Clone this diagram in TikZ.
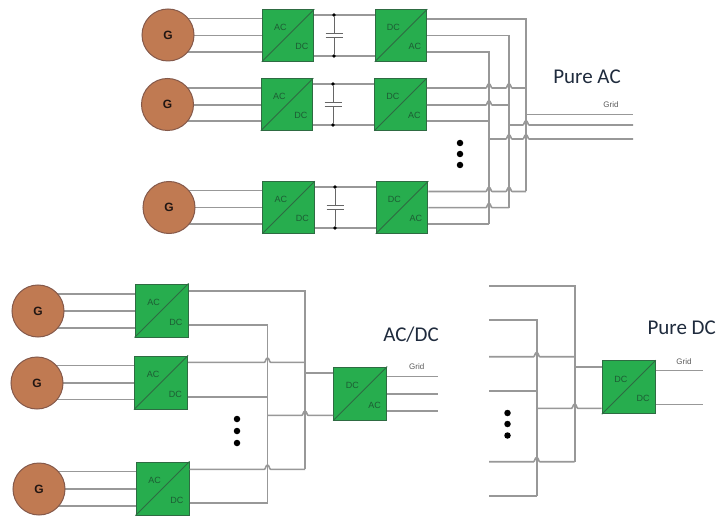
\documentclass[tikz,border=0pt]{standalone}
\usepackage{fontspec}
\setmainfont{Liberation Sans}
\newfontfamily\titlefont{Carlito}
\usetikzlibrary{backgrounds}
\definecolor{convgreen}{HTML}{27AD4E}
\definecolor{convedge}{HTML}{2E6B42}
\definecolor{genbrown}{HTML}{C07A52}
\definecolor{genedge}{HTML}{85594A}
\definecolor{wiregray}{HTML}{989898}
\definecolor{titleink}{HTML}{1F2B3D}
\definecolor{boxink}{HTML}{1D5C34}
\tikzset{
  wire/.style={draw=wiregray,line width=1.6bp},
  capwire/.style={draw=black!60,line width=1bp},
  gen/.style={circle,draw=genedge,fill=genbrown,line width=1bp,minimum size=52bp,inner sep=0pt,font=\fontsize{12bp}{13bp}\selectfont\bfseries,text=black!75!genedge},
  conv/.style={rectangle,draw=convedge,fill=convgreen,line width=1bp,minimum size=#1,inner sep=0pt},
  convtext/.style={font=\fontsize{9bp}{10bp}\selectfont,text=boxink,inner sep=0pt},
  diag/.style={draw=convedge,line width=0.9bp},
  ell/.style={circle,fill=black,minimum size=6.5bp,inner sep=0pt},
  joint/.style={circle,fill=black,minimum size=3.8bp,inner sep=0pt},
  heading/.style={font=\titlefont\fontsize{21bp}{22bp}\selectfont,text=titleink,inner sep=0pt},
  gridtext/.style={font=\fontsize{8bp}{9bp}\selectfont,text=black!65,inner sep=0pt}
}
% name, centre x, centre y, size, upper text, lower text
\newcommand{\convbox}[6]{%
  \node[conv=#4 bp] (#1) at (#2,#3) {};
  \draw[diag] (#1.south west) -- (#1.north east);
  \node[convtext] (#1t) at ([xshift=-0.15*#4 bp,yshift=0.15*#4 bp]#1.center) {#5};
  \node[convtext] (#1b) at ([xshift=0.27*#4 bp,yshift=-0.22*#4 bp]#1.center) {#6};
}
% bridge over a vertical bus at x=#1 on a horizontal wire at y=#2
\newcommand{\hp}[2]{-- (#1-3.2,#2) .. controls (#1-1.8,#2) and (#1-1.8,#2-4.2) .. (#1,#2-4.2) .. controls (#1+1.8,#2-4.2) and (#1+1.8,#2) .. (#1+3.2,#2)}
% name suffix, x, top y, bottom y
\newcommand{\capbank}[4]{%
  \node[joint] (jt#1) at (#2,#3) {};
  \node[joint] (jb#1) at (#2,#4) {};
  \coordinate (pa#1) at (#2,{(#3+#4)/2-2});
  \coordinate (pb#1) at (#2,{(#3+#4)/2+2});
  \draw[capwire] (jt#1) -- (pa#1) (pb#1) -- (jb#1);
  \draw[capwire] ([xshift=-8.5bp]pa#1) -- ([xshift=8.5bp]pa#1);
  \draw[capwire] ([xshift=-8.5bp]pb#1) -- ([xshift=8.5bp]pb#1);
}
\begin{document}
\begin{tikzpicture}[x=1bp,y=-1bp]
\useasboundingbox (0,0) rectangle (716,516);
\begin{pgfonlayer}{background}
  \fill[white] (0,0) rectangle (716,516);
\end{pgfonlayer}

% ===== Pure AC =====
\node[gen] (ga1) at (168,35) {G};
\node[gen] (ga2) at (167.5,104.5) {G};
\node[gen] (ga3) at (169,207.5) {G};
\convbox{ra1}{288}{35.5}{51.5}{AC}{DC}
\convbox{ra2}{287}{104.5}{51.5}{AC}{DC}
\convbox{ra3}{288.5}{207.5}{51.5}{AC}{DC}
\convbox{ia1}{401}{35.5}{51.5}{DC}{AC}
\convbox{ia2}{400.5}{104.5}{51.5}{DC}{AC}
\convbox{ia3}{402}{207.5}{51.5}{DC}{AC}
\coordinate (acX) at (489,0);
\coordinate (acY) at (509,0);
\coordinate (acZ) at (526,0);
\coordinate (acG) at (633,0);
\begin{pgfonlayer}{background}
  \foreach \n/\a/\b/\c in {1/18.5/35.5/52,2/88/105/121,3/190.5/207.5/224}{
    \draw[wire] (ga\n |- 0,\a) -- (ra\n.west |- 0,\a);
    \draw[wire] (ga\n |- 0,\b) -- (ra\n.west |- 0,\b);
    \draw[wire] (ga\n |- 0,\c) -- (ra\n.west |- 0,\c);
  }
\end{pgfonlayer}
\draw[wire] (ra1.east |- 0,15) -- (ia1.west |- 0,15);
\draw[wire] (ra1.east |- 0,56) -- (ia1.west |- 0,56);
\draw[wire] (ra2.east |- 0,84) -- (ia2.west |- 0,84);
\draw[wire] (ra2.east |- 0,125) -- (ia2.west |- 0,125);
\draw[wire] (ra3.east |- 0,187) -- (ia3.west |- 0,187);
\draw[wire] (ra3.east |- 0,228) -- (ia3.west |- 0,228);
\capbank{a}{334}{15}{56}
\capbank{b}{333}{84}{125}
\capbank{c}{335}{187}{228}
% outputs and buses
\draw[wire] (ia1.east |- 0,19) -- (acZ |- 0,19) -- (acZ |- 0,191.5);
\draw[wire] (ia1.east |- 0,35.7) -- (acY |- 0,35.7) -- (acY |- 0,207.7);
\draw[wire] (ia1.east |- 0,52) -- (acX |- 0,52) -- (acX |- 0,224);
\draw[wire] (ia2.east |- 0,88) \hp{489}{88} \hp{509}{88} -- (acZ |- 0,88);
\draw[wire] (ia2.east |- 0,105) \hp{489}{105} -- (acY |- 0,105);
\draw[wire] (ia2.east |- 0,121) -- (acX |- 0,121);
\draw[wire] (ia3.east |- 0,191.5) \hp{489}{191.5} \hp{509}{191.5} -- (acZ |- 0,191.5);
\draw[wire] (ia3.east |- 0,207.7) \hp{489}{207.7} -- (acY |- 0,207.7);
\draw[wire] (ia3.east |- 0,224) -- (acX |- 0,224);
\draw[wire] (acZ |- 0,114.7) -- (acG |- 0,114.7);
\draw[wire] (acY |- 0,125) \hp{526}{125} -- (acG |- 0,125);
\draw[wire] (acX |- 0,139) \hp{509}{139} \hp{526}{139} -- (acG |- 0,139);
\node[ell] (da1) at (460,143) {};
\node[ell] (da2) at (460,154) {};
\node[ell] (da3) at (460,165) {};
\node[heading] (tac) at (587,77) {Pure AC};
\node[gridtext] (gac) at (611,105) {Grid};

% ===== AC/DC =====
\node[gen] (gb1) at (38,311) {G};
\node[gen] (gb2) at (37,383) {G};
\node[gen] (gb3) at (39,489) {G};
\convbox{rb1}{161.5}{310.5}{53}{AC}{DC}
\convbox{rb2}{161}{382.5}{53}{AC}{DC}
\convbox{rb3}{162.5}{488.5}{53}{AC}{DC}
\convbox{ib}{360.2}{393.5}{53}{DC}{AC}
\coordinate (bbX) at (267.5,0);
\coordinate (bbY) at (305,0);
\coordinate (bbG) at (438,0);
\begin{pgfonlayer}{background}
  \foreach \n/\a/\b/\c in {1/293.7/311/328,2/365.5/383/399.5,3/471.5/489/506}{
    \draw[wire] (gb\n |- 0,\a) -- (rb\n.west |- 0,\a);
    \draw[wire] (gb\n |- 0,\b) -- (rb\n.west |- 0,\b);
    \draw[wire] (gb\n |- 0,\c) -- (rb\n.west |- 0,\c);
  }
\end{pgfonlayer}
\draw[wire] (rb1.east |- 0,290.7) -- (bbY |- 0,290.7) -- (bbY |- 0,469.3);
\draw[wire] (rb1.east |- 0,325) -- (bbX |- 0,325) -- (bbX |- 0,502.7);
\draw[wire] (rb2.east |- 0,362.3) \hp{267.5}{362.3} -- (bbY |- 0,362.3);
\draw[wire] (rb2.east |- 0,396.7) -- (bbX |- 0,396.7);
\draw[wire] (rb3.east |- 0,469.3) \hp{267.5}{469.3} -- (bbY |- 0,469.3);
\draw[wire] (rb3.east |- 0,502.7) -- (bbX |- 0,502.7);
\draw[wire] (bbY |- 0,372.7) -- (ib.west |- 0,372.7);
\draw[wire] (bbX |- 0,415.3) \hp{305}{415.3} -- (ib.west |- 0,415.3);
\draw[wire] (ib.east |- 0,376.3) -- (bbG |- 0,376.3);
\draw[wire] (ib.east |- 0,393.7) -- (bbG |- 0,393.7);
\draw[wire] (ib.east |- 0,410.7) -- (bbG |- 0,410.7);
\node[ell] (db1) at (237,419) {};
\node[ell] (db2) at (237,431) {};
\node[ell] (db3) at (237,443) {};
\node[heading] (tbd) at (411,335) {AC/DC};
\node[gridtext] (gbd) at (416.7,367) {Grid};

% ===== Pure DC =====
\convbox{ic}{628.7}{387.2}{53}{DC}{DC}
\coordinate (ccL) at (489,0);
\coordinate (ccX) at (536.7,0);
\coordinate (ccY) at (574.7,0);
\coordinate (ccG) at (702.7,0);
\draw[wire] (ccL |- 0,285.7) -- (ccY |- 0,285.7) -- (ccY |- 0,461.7);
\draw[wire] (ccL |- 0,320) -- (ccX |- 0,320) -- (ccX |- 0,495.7);
\draw[wire] (ccL |- 0,356.7) \hp{536.7}{356.7} -- (ccY |- 0,356.7);
\draw[wire] (ccL |- 0,390.7) -- (ccX |- 0,390.7);
\draw[wire] (ccL |- 0,461.7) \hp{536.7}{461.7} -- (ccY |- 0,461.7);
\draw[wire] (ccL |- 0,495.7) -- (ccX |- 0,495.7);
\draw[wire] (ccY |- 0,366.7) -- (ic.west |- 0,366.7);
\draw[wire] (ccX |- 0,408.3) \hp{574.7}{408.3} -- (ic.west |- 0,408.3);
\draw[wire] (ic.east |- 0,370.3) -- (ccG |- 0,370.3);
\draw[wire] (ic.east |- 0,404.3) -- (ccG |- 0,404.3);
\node[ell] (dc1) at (507.5,413) {};
\node[ell] (dc2) at (507.5,424) {};
\node[ell] (dc3) at (507.5,435.5) {};
\node[heading] (tcd) at (681.7,328) {Pure DC};
\node[gridtext] (gcd) at (684,361.7) {Grid};
\end{tikzpicture}
\end{document}
